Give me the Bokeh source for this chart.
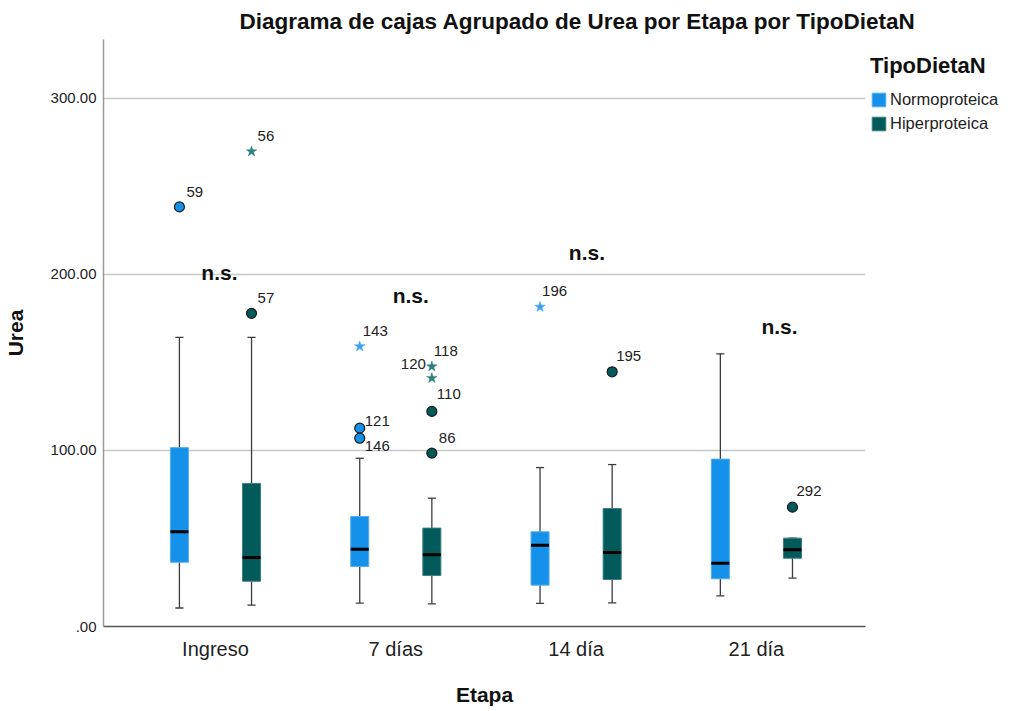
from bokeh.plotting import figure
from bokeh.models import ColumnDataSource, FixedTicker, Legend, LegendItem, Range1d
from bokeh.core.properties import value
from bokeh.embed import file_html
from bokeh.resources import INLINE

FONT = "Liberation Sans"

etapas = ["Ingreso", "7 días", "14 día", "21 día"]
dietas = ["Normoproteica", "Hiperproteica"]

# Box statistics per etapa (same order as etapas)
normo_lower = [10.5, 13.3, 13.1, 17.4]
normo_q1 = [36.5, 34.1, 23.5, 27.1]
normo_median = [53.8, 43.9, 46.2, 36.0]
normo_q3 = [101.6, 62.5, 53.8, 95.1]
normo_upper = [164.3, 95.6, 90.3, 154.9]

hiper_lower = [12.1, 12.9, 13.4, 27.5]
hiper_q1 = [25.7, 29.0, 26.7, 38.8]
hiper_median = [39.2, 40.7, 42.0, 43.6]
hiper_q3 = [81.3, 55.9, 67.0, 50.2]
hiper_upper = [164.3, 72.9, 92.0, 50.2]

# Outliers (circles) and extremes (stars)
circ_etapa = ["Ingreso", "Ingreso", "7 días", "7 días", "7 días", "7 días", "14 día", "21 día"]
circ_dieta = ["Normoproteica", "Hiperproteica", "Normoproteica", "Normoproteica",
              "Hiperproteica", "Hiperproteica", "Hiperproteica", "Hiperproteica"]
circ_value = [238.4, 177.9, 112.7, 107.0, 122.2, 98.5, 144.7, 67.8]
circ_id = ["59", "57", "121", "146", "110", "86", "195", "292"]

star_etapa = ["Ingreso", "7 días", "7 días", "7 días", "14 día"]
star_dieta = ["Hiperproteica", "Normoproteica", "Hiperproteica", "Hiperproteica", "Normoproteica"]
star_value = [269.9, 159.1, 147.7, 141.1, 181.6]
star_id = ["56", "143", "118", "120", "196"]

# significance annotations
ns_etapa = ["Ingreso", "7 días", "14 día", "21 día"]
ns_text = ["n.s.", "n.s.", "n.s.", "n.s."]
ns_level = [201.0, 188.0, 212.5, 170.5]

# ---- styling / layout (not data) ----
dodge = {"Normoproteica": -0.2, "Hiperproteica": 0.2}
ns_shift = [0.022, 0.083, 0.06, 0.128]
label_offsets = {  # id -> (dx, dy) pixels, dy positive = down
    "59": (7, -15), "57": (6, -15), "121": (5, -7), "146": (5, 8), "110": (5, -17),
    "86": (7, -15), "195": (4, -16), "292": (4, -16), "56": (6, -15), "143": (3, -15),
    "118": (2, -16), "196": (2, -16),
}
left_labels = {"120": (-6, -14)}

fill = {"Normoproteica": "#1591ea", "Hiperproteica": "#025a5b"}
edge = {"Normoproteica": "#55acef", "Hiperproteica": "#3c7f80"}
star_col = {"Normoproteica": "#3aa0ec", "Hiperproteica": "#2e7f80"}

BOXW = 0.1
CAPW = 0.045
FRAME_W, FRAME_H = 762, 587
LEGEND_H = 80


def pos(etapa, dieta):
    return etapas.index(etapa) + 1 + dodge[dieta]


p = figure(frame_width=FRAME_W, frame_height=FRAME_H,
           x_range=Range1d(0.379, 4.605), y_range=Range1d(0, 333.5),
           output_backend="svg", toolbar_location=None,
           min_border_left=0, min_border_right=0, min_border_top=0, min_border_bottom=0)
p.outline_line_color = None
p.background_fill_color = "white"
p.border_fill_color = "white"

p.title.text = "Diagrama de cajas Agrupado de Urea por Etapa por TipoDietaN"
p.title.align = "left"
p.title.offset = 136
p.title.standoff = 11.5
p.title.text_font = FONT
p.title.text_font_size = "22.5px"
p.title.text_font_style = "bold"
p.title.text_color = "#111111"

p.xgrid.visible = False
p.ygrid.ticker = FixedTicker(ticks=[100, 200, 300])
p.ygrid.grid_line_color = "#c8c8c8"
p.ygrid.grid_line_width = 1.5

p.yaxis.ticker = FixedTicker(ticks=[0, 100, 200, 300])
p.yaxis.major_label_overrides = {0: ".00", 100: "100.00", 200: "200.00", 300: "300.00"}
p.xaxis.ticker = FixedTicker(ticks=[1, 2, 3, 4])
p.xaxis.major_label_overrides = {i + 1: e for i, e in enumerate(etapas)}

for ax in (p.xaxis[0], p.yaxis[0]):
    ax.major_tick_line_color = None
    ax.minor_tick_line_color = None
    ax.major_tick_out = 0
    ax.major_tick_in = 0
    ax.minor_tick_out = 0
    ax.minor_tick_in = 0
    ax.major_label_text_font = FONT
    ax.major_label_text_color = "#222222"
    ax.axis_label_text_font = FONT
    ax.axis_label_text_font_style = "bold"
    ax.axis_label_text_font_size = "21px"
    ax.axis_label_text_color = "#111111"
    ax.axis_line_width = 1.5

p.yaxis.axis_label = "Urea"
p.yaxis.major_label_text_font_size = "15px"
p.yaxis.major_label_standoff = 7
p.yaxis.axis_label_standoff = 21
p.yaxis.axis_line_color = "#9a9a9a"

p.xaxis.axis_label = "Etapa"
p.xaxis.major_label_text_font_size = "20px"
p.xaxis.major_label_standoff = 11
p.xaxis.axis_label_standoff = 20
p.xaxis.axis_line_color = "#555555"

stats = {
    "Normoproteica": (normo_lower, normo_q1, normo_median, normo_q3, normo_upper),
    "Hiperproteica": (hiper_lower, hiper_q1, hiper_median, hiper_q3, hiper_upper),
}

box_renderers = {}
for d in dietas:
    lo, q1, med, q3, up = stats[d]
    xs = [pos(e, d) for e in etapas]
    src = ColumnDataSource(dict(x=xs, lo=lo, q1=q1, med=med, q3=q3, up=up,
                                xl=[x - CAPW / 2 for x in xs], xr=[x + CAPW / 2 for x in xs],
                                bl=[x - BOXW / 2 for x in xs], br=[x + BOXW / 2 for x in xs]))
    # whiskers
    p.segment(x0="x", y0="q3", x1="x", y1="up", source=src, line_color="#3c3c3c", line_width=1.3)
    p.segment(x0="x", y0="lo", x1="x", y1="q1", source=src, line_color="#3c3c3c", line_width=1.3)
    p.segment(x0="xl", y0="up", x1="xr", y1="up", source=src, line_color="#3c3c3c", line_width=1.3)
    p.segment(x0="xl", y0="lo", x1="xr", y1="lo", source=src, line_color="#3c3c3c", line_width=1.3)
    # boxes
    box_renderers[d] = p.vbar(x="x", width=BOXW, bottom="q1", top="q3", source=src,
                              fill_color=fill[d], line_color=edge[d], line_width=1)
    # medians
    p.segment(x0="bl", y0="med", x1="br", y1="med", source=src, line_color="black", line_width=3)

# circles
cx = [pos(e, d) for e, d in zip(circ_etapa, circ_dieta)]
csrc = ColumnDataSource(dict(x=cx, y=circ_value, id=circ_id,
                             fc=[fill[d] for d in circ_dieta],
                             dx=[label_offsets[i][0] for i in circ_id],
                             dy=[label_offsets[i][1] for i in circ_id]))
p.scatter(x="x", y="y", source=csrc, marker="circle", size=10, fill_color="fc",
          line_color="#1a1a1a", line_width=1.2)
p.text(x="x", y="y", text="id", source=csrc, x_offset="dx", y_offset="dy",
       text_font=value(FONT), text_font_size="15px", text_color="#222222",
       text_baseline="middle", text_align="left")

# stars
sx = [pos(e, d) for e, d in zip(star_etapa, star_dieta)]
ssrc = ColumnDataSource(dict(x=sx, y=star_value, id=star_id,
                             c=[star_col[d] for d in star_dieta]))
p.scatter(x="x", y="y", source=ssrc, marker="star", size=11, fill_color="c", line_color="c",
          line_width=0.5)
r_ids = [i for i in star_id if i in label_offsets]
rsrc = ColumnDataSource(dict(
    x=[sx[star_id.index(i)] for i in r_ids], y=[star_value[star_id.index(i)] for i in r_ids],
    id=r_ids, dx=[label_offsets[i][0] for i in r_ids], dy=[label_offsets[i][1] for i in r_ids]))
p.text(x="x", y="y", text="id", source=rsrc, x_offset="dx", y_offset="dy",
       text_font=value(FONT), text_font_size="15px", text_color="#222222",
       text_baseline="middle", text_align="left")
l_ids = [i for i in star_id if i in left_labels]
lsrc = ColumnDataSource(dict(
    x=[sx[star_id.index(i)] for i in l_ids], y=[star_value[star_id.index(i)] for i in l_ids],
    id=l_ids, dx=[left_labels[i][0] for i in l_ids], dy=[left_labels[i][1] for i in l_ids]))
p.text(x="x", y="y", text="id", source=lsrc, x_offset="dx", y_offset="dy",
       text_font=value(FONT), text_font_size="15px", text_color="#222222",
       text_baseline="middle", text_align="right")

# n.s. annotations
nsrc = ColumnDataSource(dict(x=[etapas.index(e) + 1 + s for e, s in zip(ns_etapa, ns_shift)],
                             y=ns_level, t=ns_text))
p.text(x="x", y="y", text="t", source=nsrc, text_font=value(FONT), text_font_size="21px",
       text_font_style="bold", text_color="#111111", text_align="center",
       text_baseline="alphabetic")

# legend in the right-hand panel; tuple location = (left, bottom) in panel pixels
legend = Legend(items=[LegendItem(label=d, renderers=[box_renderers[d]]) for d in dietas],
                location=(5, FRAME_H - 14 - LEGEND_H), title="TipoDietaN",
                title_text_font=FONT, title_text_font_size="22px", title_text_font_style="bold",
                title_text_color="#111111", title_standoff=10,
                label_text_font=FONT, label_text_font_size="16.5px", label_text_color="#222222",
                glyph_width=17, glyph_height=17, label_height=20, label_standoff=3,
                spacing=4, padding=0, margin=4, border_line_color=None,
                background_fill_alpha=0)
p.add_layout(legend, "right")

open("out.html", "w").write(file_html(p, INLINE))
